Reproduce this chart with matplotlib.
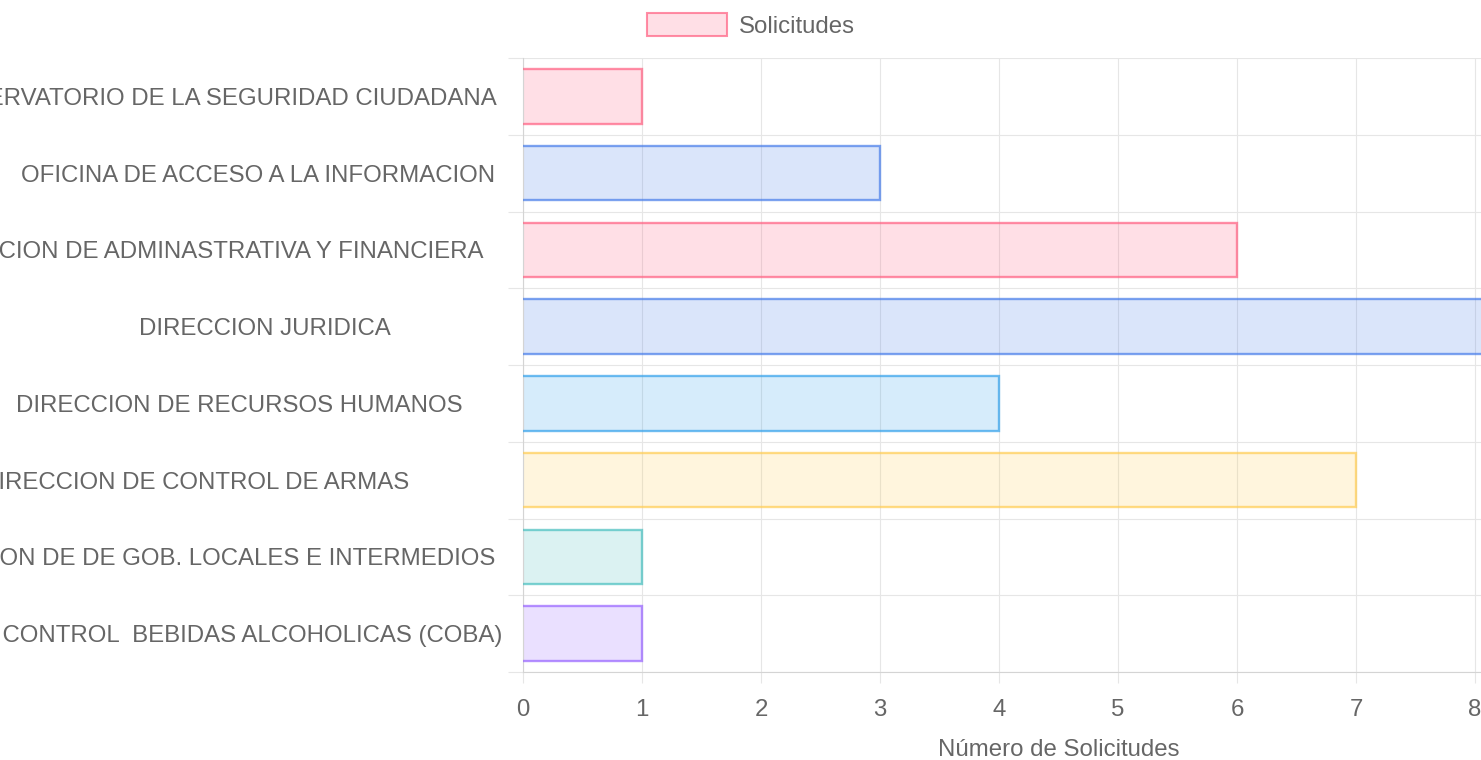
import matplotlib
matplotlib.use("Agg")
import matplotlib.pyplot as plt
from matplotlib.patches import Patch
from matplotlib.colors import to_rgba
import numpy as np

# ---------------- data ----------------
categories = [
    "OBSERVATORIO DE LA SEGURIDAD CIUDADANA ",
    "OFICINA DE ACCESO A LA INFORMACION ",
    "DIRECCION DE ADMINASTRATIVA Y FINANCIERA   ",
    "DIRECCION JURIDICA                 ",
    "DIRECCION DE RECURSOS HUMANOS      ",
    "DIRECCION DE CONTROL DE ARMAS              ",
    "DIRECCION DE DE GOB. LOCALES E INTERMEDIOS ",
    "DEPARTAMENTO DE CONTROL  BEBIDAS ALCOHOLICAS (COBA)",
]
values = [1, 3, 6, 9, 4, 7, 1, 1]
series_name = "Solicitudes"
x_ticks = [0, 1, 2, 3, 4, 5, 6, 7, 8, 9]
x_title = "Número de Solicitudes"

# ---------------- style ----------------
bar_colors = ["#FF6384", "#4A7FEA", "#FF6384", "#4A7FEA",
              "#36A2EB", "#FFCD56", "#4BC0C0", "#9966FF"]
fill_alpha = 0.2
border_alpha = 0.72
text_color = "#666666"
grid_color = "#e6e6e6"
axis_color = "#d4d4d4"
FS = 17.3

plt.rcParams["font.family"] = ["Liberation Sans", "DejaVu Sans"]

W, H = 1481, 760
fig = plt.figure(figsize=(W / 100, H / 100), dpi=100)
left_px, right_px, top_px, bottom_px = 523, 1594, 58, 672
ax = fig.add_axes([left_px / W, 1 - bottom_px / H,
                   (right_px - left_px) / W, (bottom_px - top_px) / H])

n = len(categories)
y = np.arange(n)
bar_h = 0.71

face = [to_rgba(c, fill_alpha) for c in bar_colors]
ax.barh(y, values, height=bar_h, color=face, edgecolor="none", zorder=2)

# borders (top, right, bottom; left edge skipped like Chart.js)
for yi, v, c in zip(y, values, bar_colors):
    ax.plot([0, v, v, 0], [yi - bar_h / 2, yi - bar_h / 2, yi + bar_h / 2, yi + bar_h / 2],
            color=to_rgba(c, border_alpha), lw=1.7, solid_joinstyle="miter", zorder=3,
            clip_on=True)

ax.set_xlim(x_ticks[0], x_ticks[-1])
ax.set_ylim(n - 0.5, -0.5)

ax.set_xticks(x_ticks)
ax.set_xticklabels([str(t) for t in x_ticks])
ax.set_yticks(y)
ax.set_yticklabels(categories)
ax.set_yticks(np.arange(n + 1) - 0.5, minor=True)

ax.tick_params(axis="y", which="major", length=0, pad=15, labelsize=FS, labelcolor=text_color)
ax.tick_params(axis="y", which="minor", length=10.5, width=0.8, color=grid_color)
ax.tick_params(axis="x", which="major", length=7.9, width=0.8, color=grid_color,
               pad=11.5, labelsize=FS, labelcolor=text_color)

ax.grid(True, axis="x", which="major", color=grid_color, lw=0.8, zorder=0)
ax.grid(True, axis="y", which="minor", color=grid_color, lw=0.8, zorder=0)
ax.set_axisbelow(True)

for s in ["top", "right"]:
    ax.spines[s].set_visible(False)
for s in ["left", "bottom"]:
    ax.spines[s].set_color(axis_color)
    ax.spines[s].set_linewidth(0.8)

ax.set_xlabel(x_title, fontsize=FS, color=text_color, labelpad=13)

handle = Patch(facecolor=to_rgba(bar_colors[0], fill_alpha),
               edgecolor=to_rgba(bar_colors[0], border_alpha), linewidth=1.5)
fig.legend([handle], [series_name], loc="center left",
           bbox_to_anchor=(647 / W, 1 - 25.5 / H), frameon=False,
           fontsize=FS, labelcolor=text_color, borderpad=0, borderaxespad=0,
           handlelength=80 / 24, handleheight=25 / 24, handletextpad=0.5)

fig.savefig("out.png", dpi=100)
